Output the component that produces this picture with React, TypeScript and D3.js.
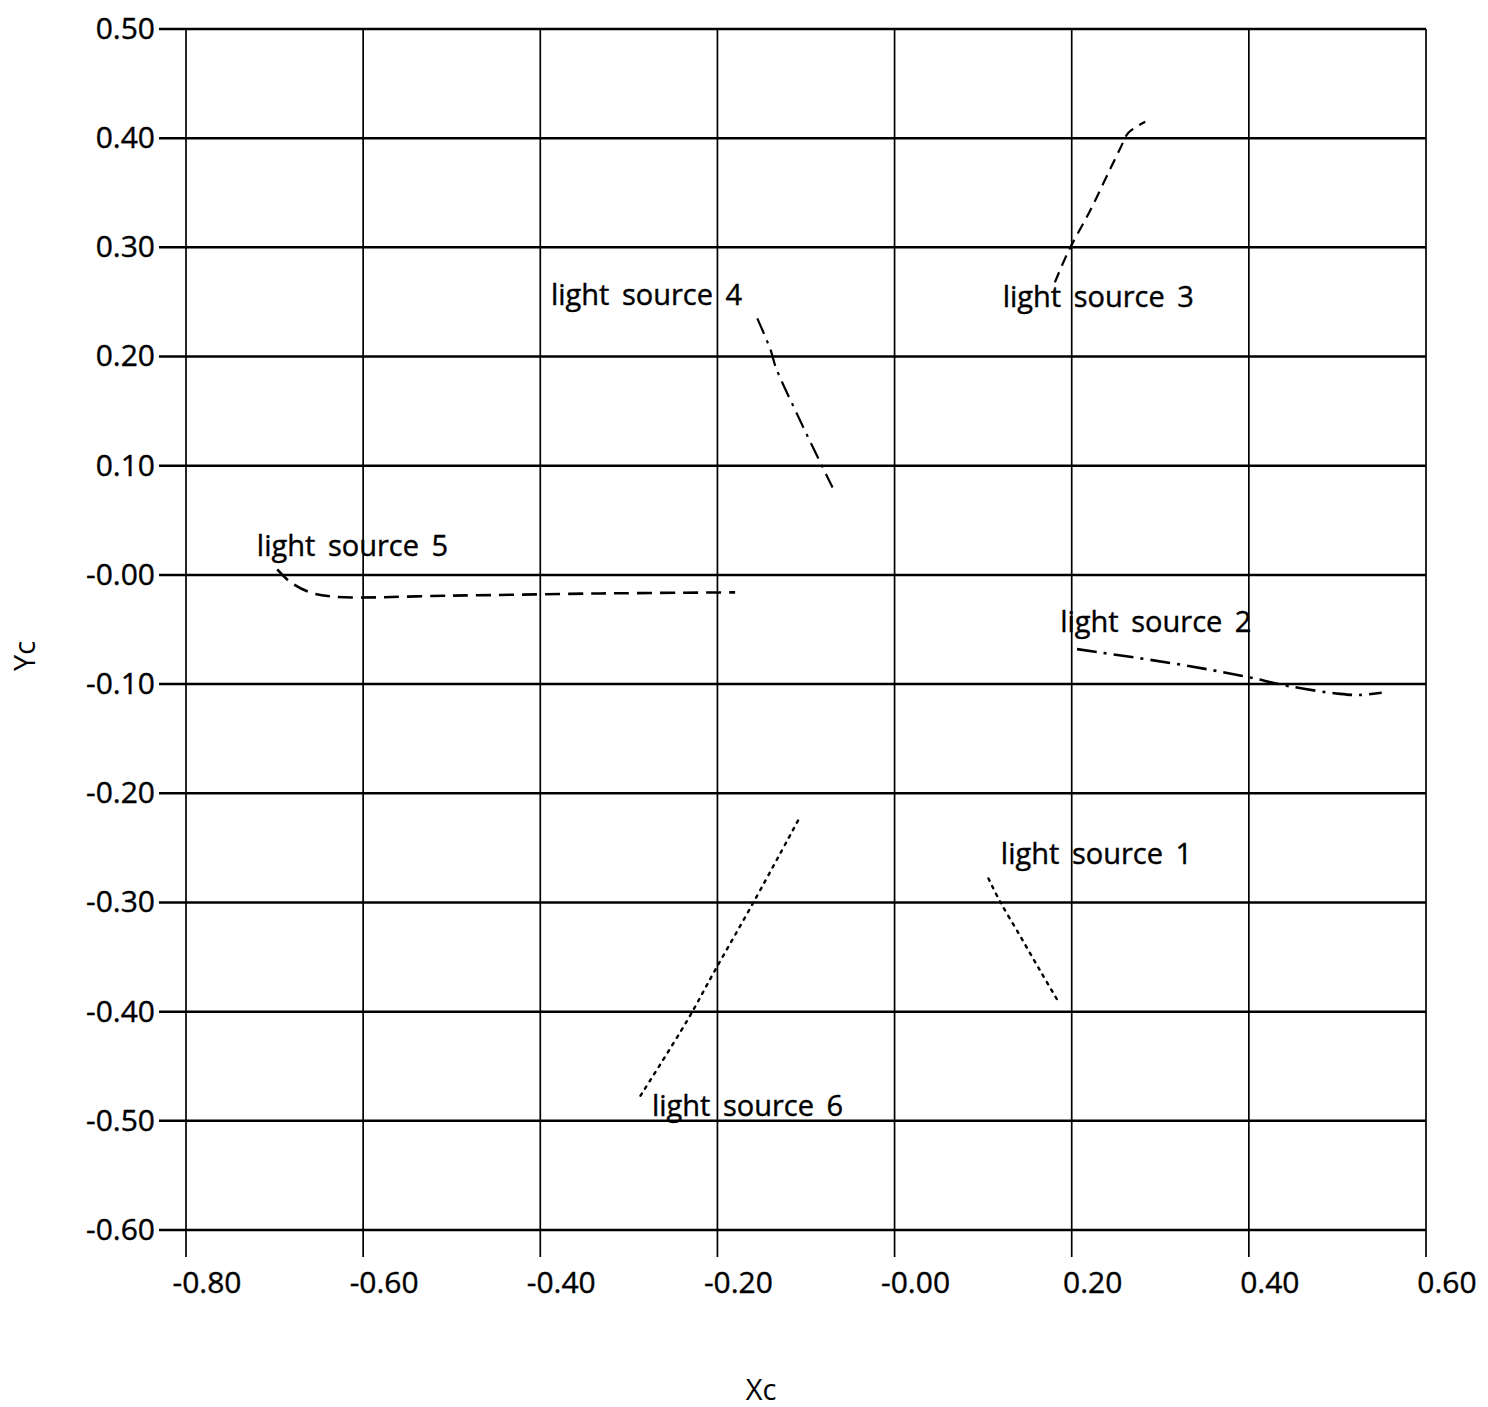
import React from 'react';
import * as d3 from 'd3';

// axis ticks
const xTicks = [-0.8, -0.6, -0.4, -0.2, 0, 0.2, 0.4, 0.6];
const xTickLabels = ['-0.80', '-0.60', '-0.40', '-0.20', '-0.00', '0.20', '0.40', '0.60'];
const yTicks = [0.5, 0.4, 0.3, 0.2, 0.1, 0, -0.1, -0.2, -0.3, -0.4, -0.5, -0.6];
const yTickLabels = ['0.50', '0.40', '0.30', '0.20', '0.10', '-0.00', '-0.10', '-0.20', '-0.30', '-0.40', '-0.50', '-0.60'];

// traces of each light source (Xc, Yc)
const source1 = [[0.106, -0.278], [0.119, -0.299], [0.142, -0.331], [0.164, -0.362], [0.185, -0.391]];
const source2 = [[0.206, -0.068], [0.314, -0.081], [0.393, -0.0925], [0.446, -0.102], [0.503, -0.109], [0.525, -0.110], [0.55, -0.108]];
const source3 = [[0.181, 0.268], [0.196, 0.296], [0.221, 0.334], [0.243, 0.371], [0.255, 0.391], [0.264, 0.405], [0.283, 0.415]];
const source4 = [[-0.155, 0.235], [-0.14, 0.206], [-0.134, 0.19], [-0.107, 0.142], [-0.07, 0.08]];
const source5 = [[-0.697, 0.005], [-0.683, -0.006], [-0.66, -0.016], [-0.632, -0.02], [-0.502, -0.019], [-0.333, -0.017], [-0.18, -0.016]];
const source6 = [[-0.109, -0.225], [-0.158, -0.298], [-0.204, -0.364], [-0.234, -0.408], [-0.29, -0.481]];

// label anchors (Xc, Yc of text start)
const labelText = ['light source 1', 'light source 2', 'light source 3', 'light source 4', 'light source 5', 'light source 6'];
const labelPos = [[0.12, -0.265], [0.187, -0.052], [0.122, 0.245], [-0.388, 0.247], [-0.72, 0.017], [-0.274, -0.496]];

const width = 1488;
const height = 1407;
const margin = { top: 29, right: 62, bottom: 177, left: 186 };
const font = '"Open Sans", "DejaVu Sans", sans-serif';

const App = () => {
  const x = d3.scaleLinear().domain([-0.8, 0.6]).range([margin.left, width - margin.right]);
  const y = d3.scaleLinear().domain([-0.6, 0.5]).range([height - margin.bottom, margin.top]);

  const line = d3.line<number[]>()
    .x(d => x(d[0]))
    .y(d => y(d[1]))
    .curve(d3.curveCatmullRom);

  const traces = [
    { pts: source1, dash: '2.5 6', cap: 'round', w: 2.4 },
    { pts: source2, dash: '20 7 3 7', cap: 'butt', w: 2.6 },
    { pts: source3, dash: '11 7', cap: 'butt', w: 2.2 },
    { pts: source4, dash: '17 7 3 7', cap: 'butt', w: 2.2 },
    { pts: source5, dash: '15 8', cap: 'butt', w: 2.6 },
    { pts: source6, dash: '2.5 6', cap: 'round', w: 2.4 },
  ];

  const [x0, x1] = x.range();
  const [yb, yt] = y.range();

  return (
    <svg width={width} height={height} style={{ position: 'absolute', left: 0, top: 0, background: '#fff' }}>
      {/* horizontal grid + left ticks */}
      {yTicks.map((t, i) => (
        <g key={'y' + i}>
          <line x1={x0 - 27} x2={x1} y1={y(t)} y2={y(t)} stroke="#000" strokeWidth={2.5} />
          <text x={x0 - 31} y={y(t)} dy="0.33em" textAnchor="end" fontFamily={font} fontSize={30}
            stroke="#000" strokeWidth={0.4}>
            {yTickLabels[i]}
          </text>
        </g>
      ))}
      {/* vertical grid + bottom ticks */}
      {xTicks.map((t, i) => (
        <g key={'x' + i}>
          <line x1={x(t)} x2={x(t)} y1={yt} y2={yb + 27} stroke="#000" strokeWidth={1.7} />
          <text x={x(t) + 21} y={yb + 63} textAnchor="middle" fontFamily={font} fontSize={30}
            stroke="#000" strokeWidth={0.4}>
            {xTickLabels[i]}
          </text>
        </g>
      ))}

      {traces.map((tr, i) => (
        <path key={'t' + i} d={line(tr.pts) || ''} fill="none" stroke="#000" strokeWidth={tr.w}
          strokeDasharray={tr.dash} strokeLinecap={tr.cap as any} />
      ))}

      {labelText.map((s, i) => (
        <text key={'l' + i} x={x(labelPos[i][0])} y={y(labelPos[i][1])} fontFamily={font} fontSize={29}
          wordSpacing={5} stroke="#000" strokeWidth={0.4}>
          {s}
        </text>
      ))}

      <text x={761} y={1400} textAnchor="middle" fontFamily={font} fontSize={29}>Xc</text>
      <text transform="translate(35,656) rotate(-90)" textAnchor="middle" fontFamily={font} fontSize={29}>Yc</text>
    </svg>
  );
};

export default App;
